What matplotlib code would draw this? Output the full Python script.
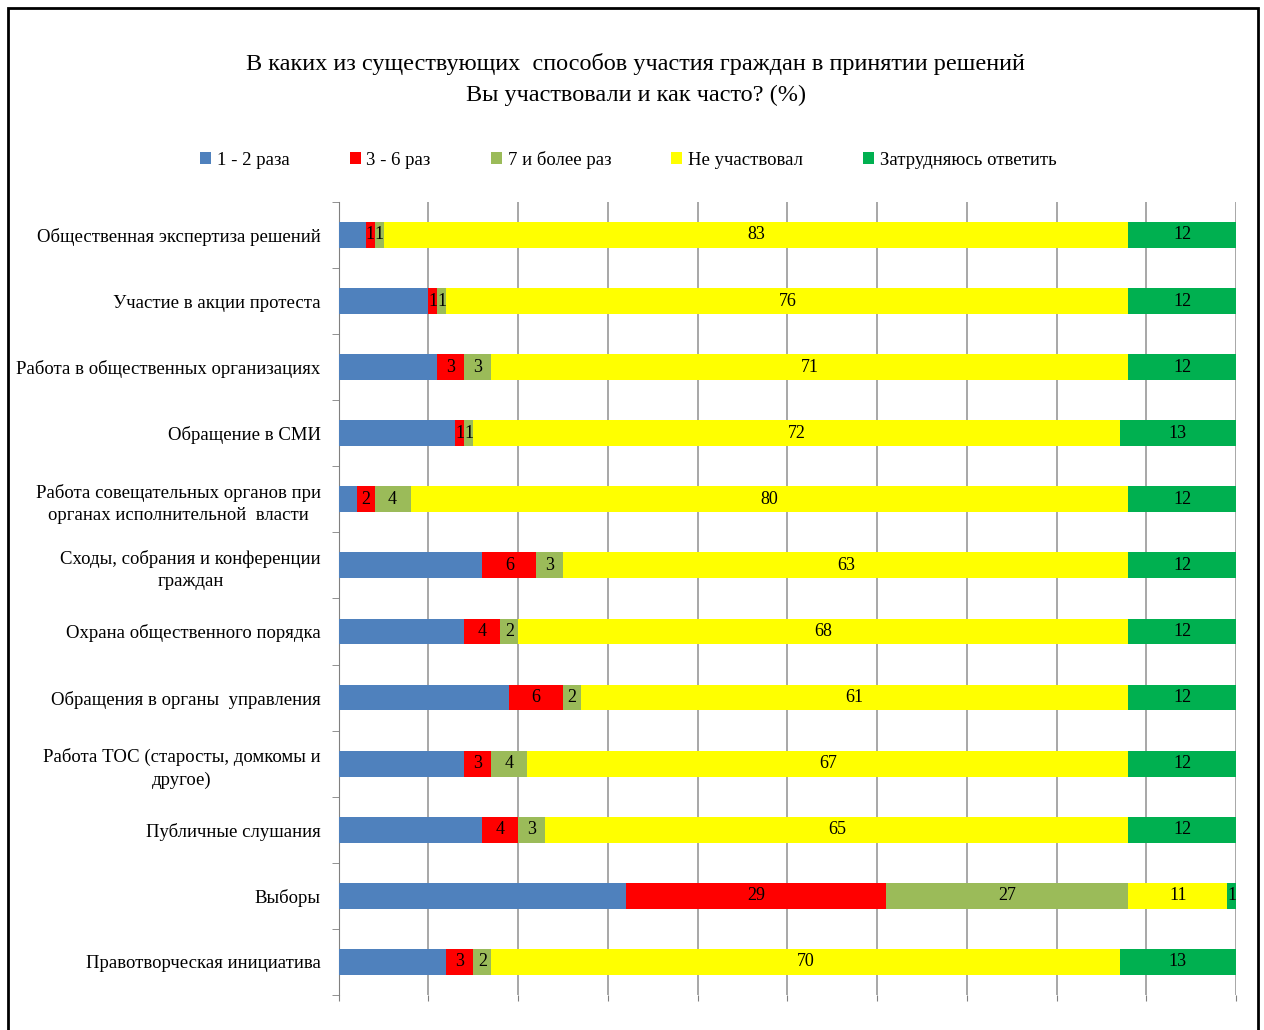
import numpy as np
import matplotlib.pyplot as plt
from matplotlib.patches import Rectangle

plt.rcParams['font.family'] = ['Liberation Serif', 'DejaVu Serif']

categories = [
    "Общественная экспертиза решений",
    "Участие в акции протеста",
    "Работа в общественных организациях",
    "Обращение в СМИ",
    "Работа совещательных органов при\nорганах исполнительной  власти",
    "Сходы, собрания и конференции\nграждан",
    "Охрана общественного порядка",
    "Обращения в органы  управления",
    "Работа ТОС (старосты, домкомы и\nдругое)",
    "Публичные слушания",
    "Выборы",
    "Правотворческая инициатива",
]

once_twice = [3, 10, 11, 13, 2, 16, 14, 19, 14, 16, 32, 12]
three_six = [1, 1, 3, 1, 2, 6, 4, 6, 3, 4, 29, 3]
seven_more = [1, 1, 3, 1, 4, 3, 2, 2, 4, 3, 27, 2]
not_part = [83, 76, 71, 72, 80, 63, 68, 61, 67, 65, 11, 70]
hard_say = [12, 12, 12, 13, 12, 12, 12, 12, 12, 12, 1, 13]

series = [once_twice, three_six, seven_more, not_part, hard_say]
names = ["1 - 2 раза", "3 - 6 раз", "7 и более раз", "Не участвовал", "Затрудняюсь ответить"]
colors = ["#4F81BD", "#FF0000", "#9BBB59", "#FFFF00", "#00B050"]
show_labels = [False, True, True, True, True]

fig = plt.figure(figsize=(12.64, 10.30), dpi=100)
ax = fig.add_axes([0.268, 0.034, 0.710, 0.770])

y = np.arange(len(categories))
left = np.zeros(len(categories))
for vals, name, col, lab in zip(series, names, colors, show_labels):
    vals = np.array(vals, dtype=float)
    bars = ax.barh(y, vals, left=left, height=0.39, color=col, label=name, zorder=3)
    if lab:
        for b, v in zip(bars, vals):
            ax.text(b.get_x() + b.get_width() / 2, b.get_y() + b.get_height() / 2,
                    f"{int(v)}", ha='center', va='center', fontsize=13,
                    color='black', zorder=4)
    left += vals

ax.set_xlim(0, 100)
ax.set_ylim(len(categories) - 0.5, -0.5)
ax.set_xticks(np.arange(0, 101, 10))
ax.set_xticklabels([])
ax.tick_params(axis='x', length=4, color='#808080')
ax.grid(axis='x', color='#A0A0A0', linewidth=1.3, zorder=0)

ax.set_yticks(y)
ax.set_yticklabels(categories, fontsize=13.5, multialignment='center', linespacing=1.4)
ax.tick_params(axis='y', length=0, pad=13)
ax.set_yticks(np.arange(-0.5, len(categories), 1), minor=True)
ax.tick_params(axis='y', which='minor', length=5, color='#808080')

for s in ['top', 'right', 'bottom']:
    ax.spines[s].set_visible(False)
ax.spines['left'].set_color('#808080')

fig.text(0.503, 0.938, "В каких из существующих  способов участия граждан в принятии решений",
         ha='center', va='center', fontsize=17.5)
fig.text(0.503, 0.907, "Вы участвовали и как часто? (%)", ha='center', va='center', fontsize=17.5)

fig.legend(loc='center', bbox_to_anchor=(0.497, 0.845), ncol=5, frameon=False,
           fontsize=13.5, handlelength=0.6, handleheight=0.6, handletextpad=0.3,
           columnspacing=3.2)

fig.add_artist(Rectangle((0.0065, -0.05), 0.9885, 1.042, transform=fig.transFigure,
                         fill=False, edgecolor='black', linewidth=2))

fig.savefig("out.png", dpi=100, facecolor='white')
